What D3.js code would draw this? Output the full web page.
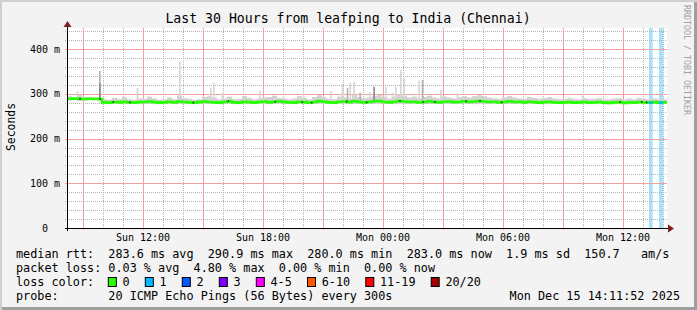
<html>
<head>
<script src="https://d3js.org/d3.v7.min.js"></script>
<style>
  body { margin: 0; background: #f0f0f0; }
  svg text { font-family: "DejaVu Sans Mono", monospace; fill: #000; }
</style>
</head>
<body>
<svg id="chart" width="697" height="310"></svg>
<script>
// ---- data ----
const title = "Last 30 Hours from leafping to India (Chennai)";
const startTime = new Date(2025, 11, 14, 8, 11, 52);
const endTime = new Date(2025, 11, 15, 14, 11, 52);
const stepMinutes = 15;

// median rtt (ms), one value per 15 minutes
const medianMs = [
  289, 289.5, 289, 288.5, 289, 289, 288.5,
  281, 280.5, 282, 281, 282.5, 281, 280.5, 281.5, 282, 283, 281.5, 280.5, 281,
  282.5, 281, 283, 282, 281, 280.5, 281.5, 283, 282, 281, 280.5, 282, 283.5, 281, 280.5, 282.5, 281.5, 280.5, 282, 283,
  281, 282.5, 283.5, 282, 281, 280.5, 282.5, 281.5, 280.5, 282, 284, 282.5, 281, 280.5, 282.5, 283, 281.5, 284, 282, 281,
  282, 283.5, 284, 282, 281, 282.5, 284, 283, 282, 282.5, 281, 282, 283.5, 282, 281, 282.5, 283, 281.5, 282, 283.5,
  282, 283, 284, 283, 282, 282.5, 281, 282, 283.5, 282, 282.5, 281, 282.5, 281.5, 280.5, 281.5, 282.5, 281, 280.5, 281,
  281.5, 280.5, 281, 282, 280.5, 281, 282, 280.5, 280, 281, 281.5, 280, 281, 280.5, 282, 281, 280.5, 281.5, 280.5, 281
];
// smoke band top / bottom (ms)
const smokeHi = [
  295, 292, 298, 293, 292, 291, 292,
  288, 287, 291, 289, 293, 288, 287, 290, 289, 294, 290, 287, 288,
  292, 288, 296, 291, 289, 287, 288, 293, 295, 292, 288, 290, 294, 288, 289, 295, 291, 288, 290, 292,
  293, 296, 291, 290, 288, 290, 295, 291, 288, 293, 297, 292, 289, 288, 294, 292, 290, 298, 293, 290,
  292, 295, 298, 293, 290, 294, 299, 296, 292, 294, 290, 293, 296, 292, 290, 294, 292, 290, 293, 295,
  292, 295, 297, 295, 292, 290, 289, 292, 295, 292, 290, 289, 293, 291, 289, 291, 293, 290, 289, 289,
  291, 289, 288, 291, 289, 289, 291, 288, 288, 290, 290, 288, 290, 288, 291, 289, 288, 290, 288, 288
];
const smokeLo = [
  285, 286, 284, 285, 286, 285, 285,
  278, 277, 278, 277, 278, 278, 277, 277, 278, 278, 277, 277, 278,
  278, 277, 278, 278, 277, 277, 278, 278, 277, 278, 277, 278, 278, 277, 277, 278, 278, 277, 278, 278,
  277, 278, 278, 277, 278, 277, 278, 278, 277, 278, 278, 277, 278, 277, 278, 278, 277, 278, 278, 277,
  278, 278, 277, 278, 278, 277, 278, 278, 277, 278, 278, 277, 278, 278, 277, 278, 278, 277, 278, 278,
  278, 277, 278, 278, 277, 278, 278, 277, 278, 278, 277, 278, 277, 278, 277, 278, 277, 278, 277, 277,
  278, 277, 277, 278, 277, 277, 278, 277, 277, 277, 278, 277, 277, 278, 277, 277, 278, 277, 277, 277
];
// single-sample spikes: minutes after start, top (ms), shade
const spikes = [
  {m: 29, hi: 306, shade: "light"}, {m: 96, hi: 351, shade: "mid"}, {m: 96, hi: 324, shade: "dark"},
  {m: 209, hi: 313, shade: "light"}, {m: 336, hi: 372, shade: "light"}, {m: 429, hi: 314, shade: "light"},
  {m: 438, hi: 325, shade: "light"}, {m: 464, hi: 302, shade: "light"}, {m: 576, hi: 306, shade: "light"},
  {m: 708, hi: 301, shade: "light"}, {m: 789, hi: 306, shade: "light"}, {m: 824, hi: 322, shade: "light"},
  {m: 839, hi: 313, shade: "mid"}, {m: 847, hi: 325, shade: "light"}, {m: 859, hi: 327, shade: "light"},
  {m: 877, hi: 303, shade: "mid"}, {m: 906, hi: 304, shade: "light"}, {m: 919, hi: 316, shade: "dark"},
  {m: 954, hi: 316, shade: "light"}, {m: 974, hi: 303, shade: "light"}, {m: 984, hi: 316, shade: "light"},
  {m: 999, hi: 353, shade: "light"}, {m: 1009, hi: 335, shade: "light"}, {m: 1054, hi: 330, shade: "light"},
  {m: 1064, hi: 331, shade: "mid"}, {m: 1119, hi: 309, shade: "light"}, {m: 1169, hi: 301, shade: "light"},
  {m: 1544, hi: 299, shade: "light"}
];
// black specks on the median line (minutes after start)
const blackDots = [39, 99, 139, 189, 379, 484, 624, 706, 734, 839, 899, 999, 1069, 1104, 1197, 1239, 1304, 1659, 1724, 1739];
// loss periods (minutes after start)
const lossPeriods = [{from: 1746, to: 1757, loss: 1}, {from: 1776, to: 1788, loss: 1}];

const lossLabels = ["0", "1", "2", "3", "4-5", "6-10", "11-19", "20/20"];
const lossColors = ["#26ff00", "#00b8ff", "#0059ff", "#7e00ff", "#ff00ff", "#ff5500", "#ff0000", "#a10000"];

const legendLines = [
  "median rtt:  283.6 ms avg  290.9 ms max  280.0 ms min  283.0 ms now  1.9 ms sd  150.7   am/s",
  "packet loss: 0.03 % avg  4.80 % max  0.00 % min  0.00 % now"
];
const probeText = "probe:       20 ICMP Echo Pings (56 Bytes) every 300s";
const stampText = "Mon Dec 15 14:11:52 2025";

// ---- chart ----
const svg = d3.select("#chart");
const plot = {left: 67, right: 667, top: 28, bottom: 228};
const charW = 7.1;

const x = d3.scaleTime().domain([startTime, endTime]).range([plot.left, plot.right]);
const y = d3.scaleLinear().domain([0, 447.4]).range([plot.bottom, plot.top]);
const atMin = m => new Date(startTime.getTime() + m * 60000);

// frame shading
svg.append("rect").attr("width", 697).attr("height", 310).attr("fill", "#cfcfcf");
svg.append("rect").attr("x", 2).attr("y", 2).attr("width", 695).attr("height", 308).attr("fill", "#9e9e9e");
svg.append("rect").attr("x", 2).attr("y", 2).attr("width", 692).attr("height", 305).attr("fill", "#f3f3f3");

// canvas
svg.append("rect").attr("x", plot.left).attr("y", plot.top)
  .attr("width", plot.right - plot.left).attr("height", plot.bottom - plot.top).attr("fill", "#fff");

// loss background bars
svg.append("g").selectAll("rect").data(lossPeriods).join("rect")
  .attr("x", d => x(atMin(d.from))).attr("y", plot.top)
  .attr("width", d => x(atMin(d.to)) - x(atMin(d.from)))
  .attr("height", plot.bottom - plot.top)
  .attr("fill", "#a6e3fa");

// grid
const grid = svg.append("g");
const hours = d3.timeHour.every(1).range(startTime, endTime);
const yTicks = d3.range(20, 447, 20);
const minorY = yTicks.filter(v => v % 100 !== 0);
const majorY = yTicks.filter(v => v % 100 === 0);
const minorX = hours.filter(d => d.getHours() % 3 !== 0);
const majorX = hours.filter(d => d.getHours() % 3 === 0);

function hLines(cls, data, color, dash) {
  grid.selectAll("line." + cls).data(data).join("line").attr("class", cls)
    .attr("x1", plot.left - 2).attr("x2", plot.right)
    .attr("y1", d => Math.round(y(d)) + 0.5).attr("y2", d => Math.round(y(d)) + 0.5)
    .attr("stroke", color).attr("stroke-dasharray", dash);
}
function vLines(cls, data, color, dash) {
  grid.selectAll("line." + cls).data(data).join("line").attr("class", cls)
    .attr("x1", d => Math.round(x(d)) + 0.5).attr("x2", d => Math.round(x(d)) + 0.5)
    .attr("y1", plot.top).attr("y2", plot.bottom + 2)
    .attr("stroke", color).attr("stroke-dasharray", dash);
}
hLines("ymin", minorY, "#b4b4b4", "1,1");
vLines("xmin", minorX, "#b4b4b4", "1,1");
hLines("ymaj", majorY, "#f4a0a0", null);
vLines("xmaj", majorX, "#f4a0a0", null);

// smoke
const shades = {light: "#d6d6d6", mid: "#b4b4b4", dark: "#8c8c8c"};
const sm = svg.append("g");
sm.selectAll("rect.band").data(medianMs).join("rect").attr("class", "band")
  .attr("x", (d, i) => x(atMin(i * stepMinutes)))
  .attr("width", (d, i) => x(atMin((i + 1) * stepMinutes)) - x(atMin(i * stepMinutes)))
  .attr("y", (d, i) => y(smokeHi[i]))
  .attr("height", (d, i) => y(smokeLo[i]) - y(smokeHi[i]))
  .attr("fill", "#d2d2d2");
sm.selectAll("rect.spike").data(spikes).join("rect").attr("class", "spike")
  .attr("x", d => x(atMin(d.m)))
  .attr("width", d => x(atMin(d.m + 5)) - x(atMin(d.m)))
  .attr("y", d => y(d.hi))
  .attr("height", d => y(medianMs[Math.floor(d.m / stepMinutes)]) - y(d.hi))
  .attr("fill", d => shades[d.shade]);

// median line
const medianPts = medianMs.map((v, i) => [atMin(i * stepMinutes), v]);
medianPts.push([endTime, medianMs[medianMs.length - 1]]);
const line = d3.line().x(d => x(d[0])).y(d => y(d[1])).curve(d3.curveStepAfter);
svg.append("path").attr("d", line(medianPts))
  .attr("fill", "none").attr("stroke", lossColors[0]).attr("stroke-width", 2.6);
svg.append("g").selectAll("line").data(lossPeriods).join("line")
  .attr("x1", d => x(atMin(d.from))).attr("x2", d => x(atMin(d.to)))
  .attr("y1", d => y(medianMs[Math.floor(d.from / stepMinutes)]))
  .attr("y2", d => y(medianMs[Math.floor(d.from / stepMinutes)]))
  .attr("stroke", d => lossColors[d.loss]).attr("stroke-width", 2.6);
svg.append("g").selectAll("rect").data(blackDots).join("rect")
  .attr("x", d => x(atMin(d)) - 0.75)
  .attr("y", d => y(medianMs[Math.floor(d / stepMinutes)]) - 0.75)
  .attr("width", 1.5).attr("height", 1.5).attr("fill", "#222");

// axes
const ax = svg.append("g");
ax.append("line").attr("x1", plot.left - 2).attr("x2", plot.right + 3)
  .attr("y1", plot.bottom + 0.5).attr("y2", plot.bottom + 0.5).attr("stroke", "#000");
ax.append("line").attr("x1", plot.left + 0.5).attr("x2", plot.left + 0.5)
  .attr("y1", plot.bottom + 3).attr("y2", plot.top - 3).attr("stroke", "#000");
ax.append("path").attr("d", `M${plot.right + 1},${plot.bottom - 3.5}L${plot.right + 7},${plot.bottom + 0.5}L${plot.right + 1},${plot.bottom + 4.5}Z`)
  .attr("fill", "#7f1f1f");
ax.append("path").attr("d", `M${plot.left - 3.5},${plot.top - 1}L${plot.left + 0.5},${plot.top - 7}L${plot.left + 4.5},${plot.top - 1}Z`)
  .attr("fill", "#7f1f1f");

// tick labels
const labelHours = hours.filter(d => d.getHours() % 6 === 0);
ax.selectAll("text.xl").data(labelHours).join("text").attr("class", "xl")
  .attr("x", d => x(d)).attr("y", 241)
  .attr("text-anchor", "middle").attr("font-size", "10px")
  .text(d3.timeFormat("%a %H:%M"));
ax.selectAll("text.yl").data([0, 100, 200, 300, 400]).join("text").attr("class", "yl")
  .attr("x", d => d === 0 ? 48 : 60).attr("y", d => y(d) + 3.5)
  .attr("text-anchor", "end").attr("font-size", "10px")
  .text(d => d === 0 ? "0" : d + " m");

// titles
svg.append("text").attr("x", 348).attr("y", 23).attr("text-anchor", "middle")
  .attr("font-size", "13.2px").text(title);
svg.append("text").attr("transform", "translate(15,127) rotate(-90)")
  .attr("text-anchor", "middle").attr("font-size", "11.4px").text("Seconds");
svg.append("text").attr("transform", "translate(684,5) rotate(90)")
  .attr("font-size", "8.3px").style("fill", "#a0a0a0").text("RRDTOOL / TOBI OETIKER");

// legend
const lg = svg.append("g").attr("font-size", "11.8px").attr("xml:space", "preserve");
legendLines.forEach((t, i) => {
  lg.append("text").attr("x", 16).attr("y", 258 + i * 14).style("white-space", "pre").text(t);
});
lg.append("text").attr("x", 16).attr("y", 286).text("loss color:");
let cx = 16 + 13 * charW - 0.5;
lossLabels.forEach((lab, i) => {
  lg.append("rect").attr("x", cx + 0.5).attr("y", 277.5).attr("width", 8).attr("height", 9)
    .attr("fill", lossColors[i]).attr("stroke", "#000");
  lg.append("text").attr("x", cx + 14.7).attr("y", 286).text(lab);
  cx += 14.7 + lab.length * charW + 15.2;
});
lg.append("text").attr("x", 16).attr("y", 300).style("white-space", "pre").text(probeText);
lg.append("text").attr("x", 680).attr("y", 300).attr("text-anchor", "end").text(stampText);
</script>
</body>
</html>
